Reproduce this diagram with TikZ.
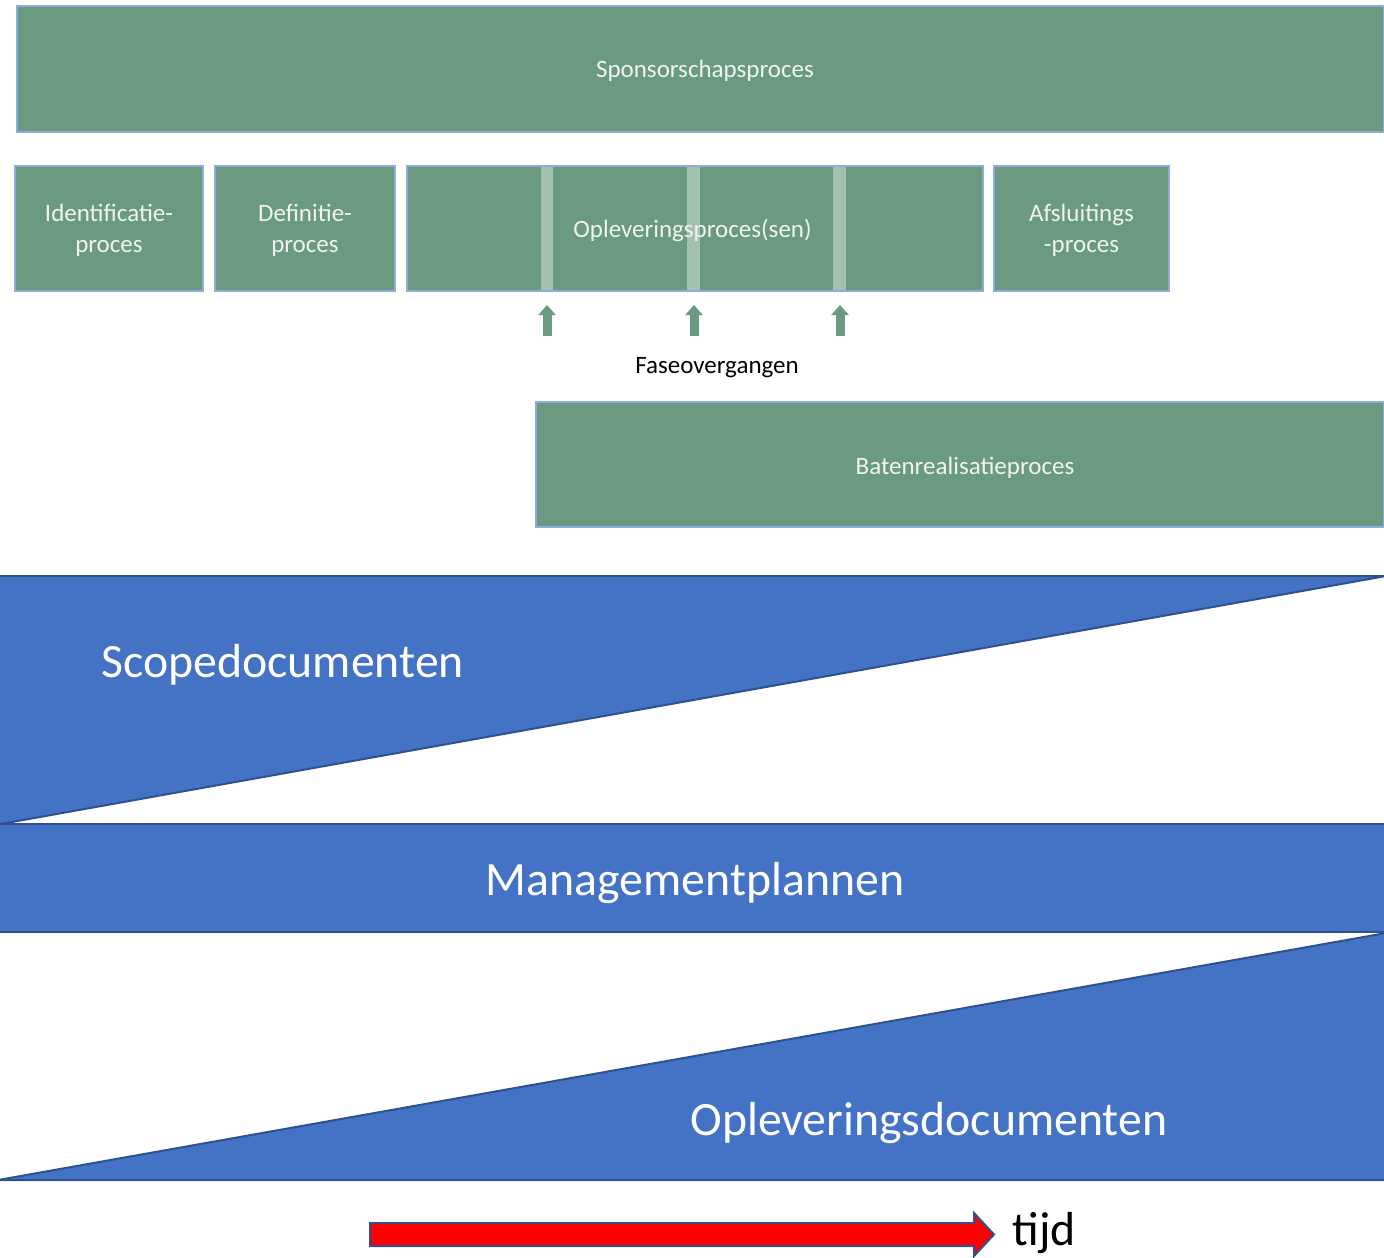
\documentclass[tikz,border=0pt]{standalone}
\usepackage{fontspec}
\setmainfont{Carlito}
\usetikzlibrary{arrows.meta}
\definecolor{gfill}{HTML}{6A9A7F}
\definecolor{gline}{HTML}{8FAADC}
\definecolor{gstrip}{HTML}{A3C1AF}
\definecolor{bfill}{HTML}{4472C4}
\definecolor{bline}{HTML}{2F528F}
\definecolor{gtext}{HTML}{F2F2F2}
\tikzset{
  gbox/.style={draw=gline, line width=0.8pt, fill=gfill, inner sep=0pt, minimum height=62.5pt},
  gtxt/.style={text=gtext, font=\fontsize{12.5}{15.5}\selectfont, align=center, inner sep=0pt},
  btxt/.style={text=white, font=\fontsize{23.9}{28}\selectfont, inner sep=0pt},
  bshape/.style={fill=bfill, draw=bline, line width=1pt, line join=miter},
  garrow/.style={draw=gfill, line width=4.5pt, -{Triangle[width=8.5pt,length=5pt]}},
}
\begin{document}
\begin{tikzpicture}[x=0.5pt,y=-0.5pt]
\useasboundingbox (0,0) rectangle (1384,1257);
% Sponsorschap
\node[gbox, minimum width=683.5pt, minimum height=63pt] (spons) at (700.5,69) {};
\node[gtxt] (sponsT) at (705,71) {Sponsorschapsproces};
% process boxes
\node[gbox, minimum width=94pt] (ident) at (109,228.5) {};
\node[gtxt] (identT) at ([yshift=-1pt]ident.center) {Identificatie-\\proces};
\node[gbox, minimum width=90pt] (defin) at (305,228.5) {};
\node[gtxt] (definT) at ([yshift=-1pt]defin.center) {Definitie-\\proces};
\node[gbox, minimum width=288pt] (oplev) at (695,228.5) {};
\fill[gstrip] (541,167) rectangle (553,290);
\fill[gstrip] (687,167) rectangle (700,290);
\fill[gstrip] (833,167) rectangle (846,290);
\node[gtxt] (oplevT) at (692.5,231) {Opleveringsproces(sen)};
\node[gbox, minimum width=87.5pt] (afsl) at (1081.5,228.5) {};
\node[gtxt] (afslT) at ([yshift=-1pt]afsl.center) {Afsluitings\\-proces};
% phase arrows
\coordinate (a1s) at (547,336); \coordinate (a1e) at (547,305);
\coordinate (a2s) at (694,336); \coordinate (a2e) at (694,305);
\coordinate (a3s) at (840,336); \coordinate (a3e) at (840,305);
\draw[garrow] (a1s) -- (a1e);
\draw[garrow] (a2s) -- (a2e);
\draw[garrow] (a3s) -- (a3e);
\node[font=\fontsize{12.5}{15}\selectfont, text=black, inner sep=0pt] (fase) at (717,368) {Faseovergangen};
% Baten
\node[gbox, minimum width=424pt] (baten) at (960,464.5) {};
\node[gtxt] (batenT) at (965,468) {Batenrealisatieproces};
% blue shapes
\filldraw[bshape] (-2,576) -- (1386,576) -- (-2,824.5) -- cycle;
\node[btxt, anchor=west] (scope) at (101,665) {Scopedocumenten};
\filldraw[bshape] (-2,824) rectangle (1386,932);
\node[btxt] (mgmt) at (695,883) {Managementplannen};
\filldraw[bshape] (-2,1180) -- (1386,933) -- (1386,1180) -- cycle;
\node[btxt, anchor=west] (opldoc) at (690,1123) {Opleveringsdocumenten};
% time arrow
\filldraw[fill=red, draw=bline, line width=1pt, line join=miter]
  (370,1223) -- (974,1223) -- (974,1213) -- (994,1234.5) -- (974,1256) -- (974,1246) -- (370,1246) -- cycle;
\node[font=\fontsize{23.9}{28}\selectfont, text=black, inner sep=0pt, anchor=base west] (tijd) at (1012,1245) {tijd};
\end{tikzpicture}
\end{document}
